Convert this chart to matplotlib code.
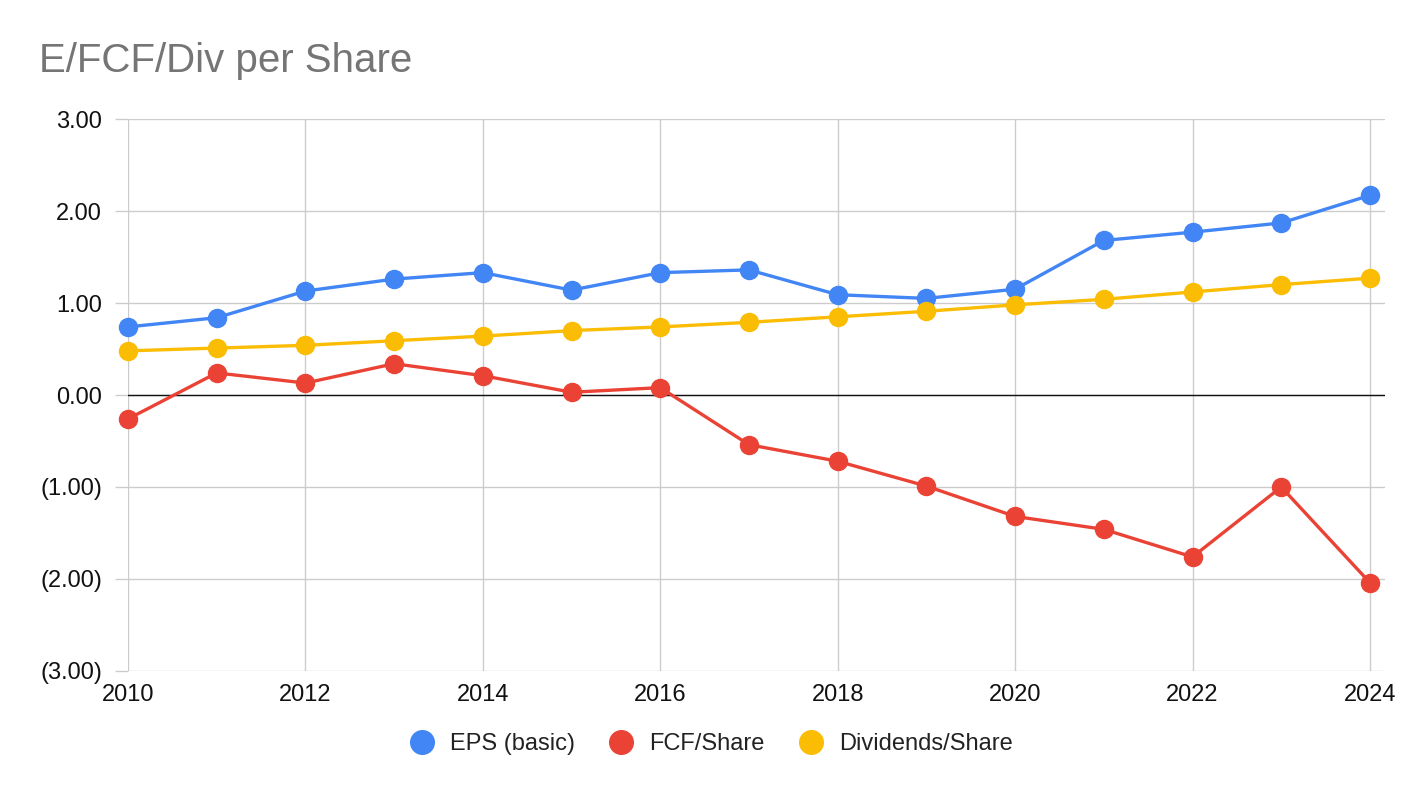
import numpy as np
import matplotlib
matplotlib.use("Agg")
import matplotlib.pyplot as plt
from matplotlib.ticker import FuncFormatter, MultipleLocator

plt.rcParams['font.family'] = ['Liberation Sans', 'DejaVu Sans']

years = list(range(2010, 2025))
eps = [0.74, 0.84, 1.13, 1.26, 1.33, 1.14, 1.33, 1.36, 1.09, 1.05, 1.15, 1.68, 1.77, 1.87, 2.17]
fcf = [-0.26, 0.24, 0.13, 0.34, 0.21, 0.03, 0.08, -0.54, -0.72, -0.99, -1.32, -1.46, -1.76, -1.00, -2.04]
div = [0.48, 0.51, 0.54, 0.59, 0.64, 0.70, 0.74, 0.79, 0.85, 0.91, 0.98, 1.04, 1.12, 1.20, 1.27]

series = [("EPS (basic)", eps, "#4285F4"),
          ("FCF/Share", fcf, "#EA4335"),
          ("Dividends/Share", div, "#FBBC04")]

fig = plt.figure(figsize=(14.24, 7.98), dpi=100)
ax = fig.add_axes([128 / 1424, 1 - 671 / 798, (1385 - 128) / 1424, (671 - 119) / 798])
ax.set_axisbelow(True)

for name, vals, col in series:
    ax.plot(years, vals, color=col, lw=2.4, marker="o", markersize=13,
            label=name, zorder=3, clip_on=False)

ax.set_xlim(2010, 2024.17)
ax.set_ylim(-3, 3)
ax.xaxis.set_major_locator(MultipleLocator(2))
ax.yaxis.set_major_locator(MultipleLocator(1))


def fmt(v, pos):
    if v < 0:
        return "({:.2f})".format(-v)
    return "{:.2f}".format(v)


ax.yaxis.set_major_formatter(FuncFormatter(fmt))
ax.grid(True, color="#cccccc", lw=1.0)
ax.axhline(0, color="#111111", lw=1.0, zorder=2)
for s in ax.spines.values():
    s.set_visible(False)
ax.tick_params(labelsize=17, colors="#111111")
ax.tick_params(axis="y", length=9.4, width=1.0, color="#cccccc", pad=9.4)
ax.tick_params(axis="x", length=0, pad=9.5)

fig.text(39 / 1424, 1 - 72 / 798, "E/FCF/Div per Share", fontsize=29,
         color="#757575", va="baseline", ha="left")

handles = [plt.Line2D([], [], color=c, marker="o", linestyle="none", markersize=17)
           for _, _, c in series]
fig.legend(handles, [s[0] for s in series], loc="center",
           bbox_to_anchor=(711.5 / 1424, 1 - 744 / 798), ncol=3, frameon=False,
           fontsize=17, handlelength=1.0, handletextpad=0.69, columnspacing=1.45,
           borderpad=0, labelcolor="#222222")

fig.savefig("out.png", dpi=100)
